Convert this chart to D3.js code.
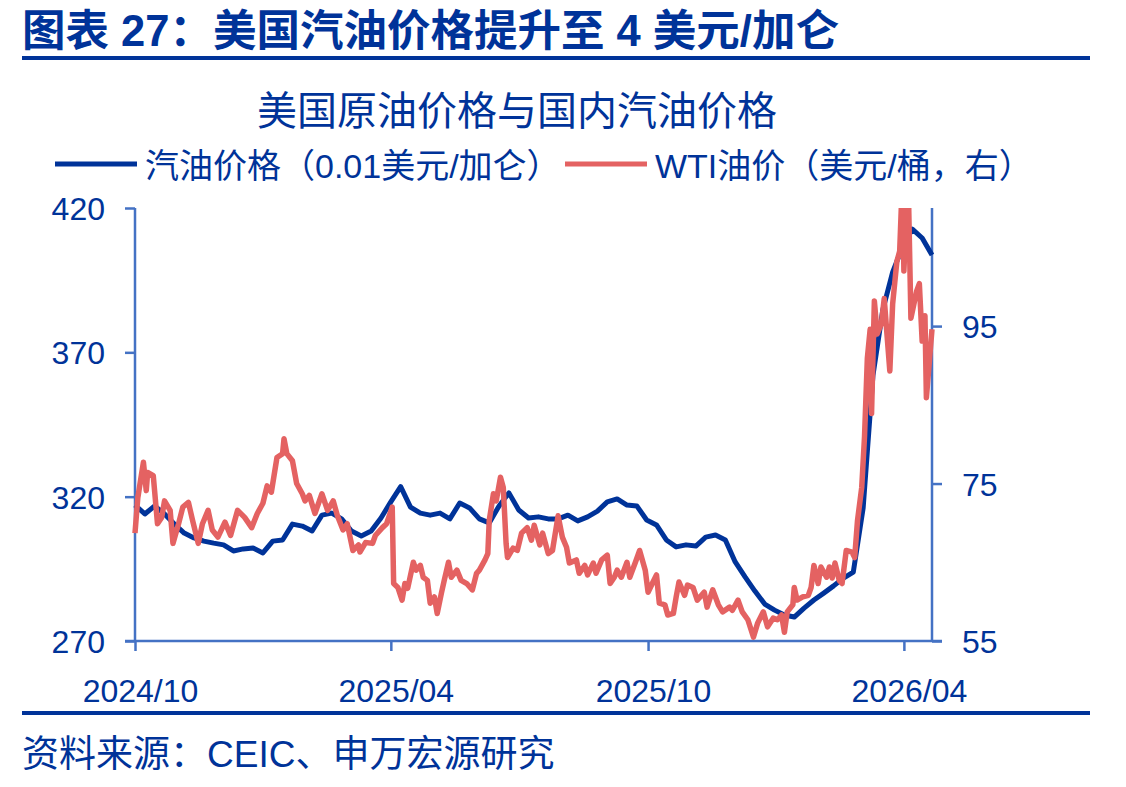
<!DOCTYPE html>
<html lang="zh">
<head>
  <meta charset="UTF-8">
  <title>图表 27</title>
  <script src="https://d3js.org/d3.v7.min.js"></script>
  <style>
    * { margin: 0; padding: 0; box-sizing: border-box; }
    body { background: #fff; font-family: "Liberation Sans", Arial, "Noto Sans CJK SC", sans-serif; }
  </style>
</head>
<body>
  <div id="chart"></div>
  <script>
    // 汽油价格（0.01美元/加仑），周度，自 2024-10-01 起
    const gasStart = "2024-10-01";
    const gasPrice = [
      317.1, 314.0, 316.8, 314.0, 310.5, 307.4, 305.7, 304.6, 303.9, 303.3,
      301.2, 301.9, 302.2, 300.5, 304.6, 305.0, 310.5, 309.8, 308.1, 313.6,
      314.3, 312.3, 308.1, 306.4, 308.1, 312.6, 318.2, 323.5, 316.4, 314.3,
      313.6, 314.3, 312.3, 317.8, 316.1, 312.3, 310.9, 316.8, 321.3, 315.4,
      312.6, 313.0, 312.3, 312.3, 313.6, 311.6, 313.0, 315.0, 318.2, 319.2,
      317.1, 316.8, 311.9, 310.2, 305.0, 302.6, 303.3, 302.9, 306.0, 306.7,
      305.0, 297.4, 292.2, 287.3, 282.8, 280.7, 279.0, 278.3, 281.4, 284.2,
      286.6, 289.1, 291.8, 293.9, 316.0, 362.0, 384.7, 397.8, 406.5, 412.7,
      409.6, 403.7
    ];

    // WTI油价（美元/桶），按距 2024-10-01 的天数
    const wtiStart = "2024-10-01";
    const wtiDay = [
      0, 2, 6, 8, 9, 13, 16, 19, 21, 25, 27, 31, 34, 38, 41, 45, 48, 52, 55, 59,
      64, 68, 73, 78, 83, 87, 91, 94, 97, 101, 105, 106, 108, 112, 115, 119, 121, 124, 128, 133,
      137, 141, 144, 148, 151, 155, 159, 160, 164, 169, 171, 176, 179, 183, 184, 187, 190, 192, 194, 198,
      200, 203, 205, 208, 210, 213, 215, 218, 220, 223, 225, 229, 232, 236, 240, 243, 245, 249, 251, 252,
      255, 257, 260, 262, 264, 265, 269, 272, 275, 279, 282, 284, 288, 290, 294, 297, 301, 304, 307, 309,
      314, 316, 320, 322, 326, 328, 332, 336, 338, 341, 343, 346, 350, 352, 356, 359, 363, 365, 368, 371,
      373, 377, 379, 383, 385, 387, 391, 393, 397, 400, 405, 407, 411, 415, 418, 423, 425, 429, 432, 436,
      440, 443, 447, 450, 454, 457, 460, 462, 464, 468, 469, 471, 475, 479, 481, 483, 486, 488, 492, 494,
      496, 498, 501, 503, 506, 510, 512, 514, 517, 519, 521, 523, 524, 526, 528, 531, 533, 537, 539, 542,
      544, 546, 547, 550, 552, 556, 558, 560, 562, 563, 567
    ];
    const wtiPrice = [
      68.7, 73.2, 77.7, 74.1, 76.4, 76.0, 69.9, 70.7, 72.8, 71.6, 67.4, 69.9, 72.0, 72.6, 70.3, 67.4, 69.9, 71.6, 69.1, 68.2,
      70.1, 68.4, 71.6, 70.7, 69.4, 71.2, 72.5, 74.7, 73.9, 78.3, 78.8, 80.7, 78.8, 77.9, 75.0, 73.7, 72.8, 73.5, 71.2, 73.7,
      71.6, 72.8, 70.9, 69.1, 69.9, 66.5, 67.2, 66.3, 67.5, 67.4, 68.4, 69.4, 69.9, 72.0, 62.3, 61.8, 60.2, 62.3, 61.7, 65.0,
      64.0, 64.6, 63.1, 62.7, 59.8, 60.6, 58.5, 61.1, 62.7, 65.0, 63.1, 64.0, 62.7, 62.3, 61.5, 63.6, 64.0, 65.3, 66.1, 70.3,
      73.7, 72.8, 75.8, 74.5, 67.4, 65.6, 66.8, 66.5, 68.7, 69.4, 67.8, 69.7, 67.2, 68.7, 66.1, 66.5, 70.9, 68.2, 66.9, 64.9,
      65.3, 63.6, 64.6, 63.4, 64.9, 63.6, 65.3, 65.9, 62.3, 63.1, 64.0, 63.1, 65.0, 63.1, 65.0, 66.5, 64.0, 61.2, 62.3, 63.4,
      59.8, 59.6, 58.3, 58.5, 60.6, 62.5, 60.8, 62.1, 61.8, 60.2, 61.2, 59.3, 61.5, 59.6, 58.7, 59.3, 58.9, 60.2, 58.7, 57.7,
      55.5, 57.3, 58.7, 56.8, 57.9, 57.7, 58.3, 56.1, 58.7, 59.6, 61.8, 60.2, 60.6, 60.8, 61.8, 64.6, 62.3, 64.4, 63.1, 64.4,
      63.0, 64.9, 62.7, 62.3, 66.5, 66.3, 65.6, 70.3, 74.5, 81.0, 90.9, 94.6, 83.9, 98.2, 94.0, 95.3, 98.5, 89.3, 97.8, 103.2,
      104.5, 114.0, 102.0, 114.0, 96.0, 99.4, 100.4, 93.1, 96.3, 85.9, 94.6
    ];

    const xTicks = ["2024-10-01", "2025-04-01", "2025-10-01", "2026-04-01"];
    const leftTicks = [270, 320, 370, 420];
    const rightTicks = [55, 75, 95];
    const leftDomain = [270, 420];
    const rightDomain = [55, 110];
    const xEnd = "2026-04-21";

    const navy = "#003399", axisBlue = "#4472C4", red = "#E46262";

    const W = 1126, H = 787;
    const margin = {top: 208, right: 194, bottom: 146, left: 135},
          width = W - margin.left - margin.right,
          height = H - margin.top - margin.bottom;

    const parse = d3.utcParse("%Y-%m-%d");
    const gasData = gasPrice.map((v, i) => ({date: d3.utcDay.offset(parse(gasStart), i * 7), v}));
    const wtiData = wtiPrice.map((v, i) => ({date: d3.utcDay.offset(parse(wtiStart), wtiDay[i]), v}));

    const svg = d3.select("#chart").append("svg")
      .attr("width", W).attr("height", H)
      .style("font-family", "'Liberation Sans', Arial, 'Noto Sans CJK SC', sans-serif");

    // 标题
    svg.append("text")
       .attr("x", 22).attr("y", 46)
       .attr("fill", navy)
       .style("font-size", "43.5px")
       .style("font-weight", "bold")
       .text("图表 27：美国汽油价格提升至 4 美元/加仑");
    svg.append("line")
       .attr("x1", 22).attr("x2", 1090).attr("y1", 58).attr("y2", 58)
       .attr("stroke", navy).attr("stroke-width", 4);

    svg.append("text")
       .attr("x", 517).attr("y", 125)
       .attr("text-anchor", "middle")
       .attr("fill", navy)
       .style("font-size", "40px")
       .text("美国原油价格与国内汽油价格");

    // 图例
    const legend = [
      {label: "汽油价格（0.01美元/加仑）", color: navy, x: 55},
      {label: "WTI油价（美元/桶，右）", color: red, x: 565}
    ];
    legend.forEach(l => {
      svg.append("line")
         .attr("x1", l.x).attr("x2", l.x + 82).attr("y1", 164).attr("y2", 164)
         .attr("stroke", l.color).attr("stroke-width", 5);
      svg.append("text")
         .attr("x", l.x + 90).attr("y", 178)
         .attr("fill", navy)
         .style("font-size", "34px")
         .text(l.label);
    });

    const g = svg.append("g").attr("transform", `translate(${margin.left},${margin.top})`);

    const x = d3.scaleUtc().domain([parse(gasStart), parse(xEnd)]).range([0, width]);
    const yL = d3.scaleLinear().domain(leftDomain).range([height, 0]);
    const yR = d3.scaleLinear().domain(rightDomain).range([height, 0]);

    g.append("clipPath").attr("id", "plot-clip")
     .append("rect").attr("x", -5).attr("y", 0).attr("width", width + 10).attr("height", height);

    // 坐标轴
    const styleAxis = sel => {
      sel.select(".domain").remove();
      sel.selectAll("line").attr("stroke", axisBlue).attr("stroke-width", 2.5);
      sel.selectAll("text").attr("fill", navy).style("font-size", "32px");
    };

    g.append("g")
     .call(d3.axisLeft(yL).tickValues(leftTicks).tickSize(10).tickPadding(20))
     .call(styleAxis)
     .selectAll("text").attr("dy", "0.36em");

    g.append("g")
     .attr("transform", `translate(${width},0)`)
     .call(d3.axisRight(yR).tickValues(rightTicks).tickSize(10).tickPadding(20))
     .call(styleAxis)
     .selectAll("text").attr("dy", "0.36em");

    g.append("g")
     .attr("transform", `translate(0,${height})`)
     .call(d3.axisBottom(x).tickValues(xTicks.map(parse)).tickFormat(d3.utcFormat("%Y/%m")).tickSize(10).tickPadding(28))
     .call(styleAxis)
     .selectAll("text").attr("dx", 5);

    // 轴线
    g.append("line").attr("x1", 0).attr("x2", 0).attr("y1", 0).attr("y2", height)
     .attr("stroke", axisBlue).attr("stroke-width", 2.5);
    g.append("line").attr("x1", width).attr("x2", width).attr("y1", 0).attr("y2", height)
     .attr("stroke", axisBlue).attr("stroke-width", 2.5);
    g.append("line").attr("x1", -10).attr("x2", width + 10).attr("y1", height).attr("y2", height)
     .attr("stroke", axisBlue).attr("stroke-width", 2.5);

    // 折线
    const lines = g.append("g").attr("clip-path", "url(#plot-clip)");
    lines.append("path")
         .datum(gasData)
         .attr("fill", "none")
         .attr("stroke", navy)
         .attr("stroke-width", 5)
         .attr("stroke-linejoin", "round")
         .attr("d", d3.line().x(d => x(d.date)).y(d => yL(d.v)));
    lines.append("path")
         .datum(wtiData)
         .attr("fill", "none")
         .attr("stroke", red)
         .attr("stroke-width", 5.5)
         .attr("stroke-linejoin", "round")
         .attr("d", d3.line().x(d => x(d.date)).y(d => yR(d.v)));

    // 底部
    svg.append("line")
       .attr("x1", 22).attr("x2", 1090).attr("y1", 713).attr("y2", 713)
       .attr("stroke", navy).attr("stroke-width", 4);
    svg.append("text")
       .attr("x", 22).attr("y", 767)
       .attr("fill", navy)
       .style("font-size", "37px")
       .text("资料来源：CEIC、申万宏源研究");
  </script>
</body>
</html>
